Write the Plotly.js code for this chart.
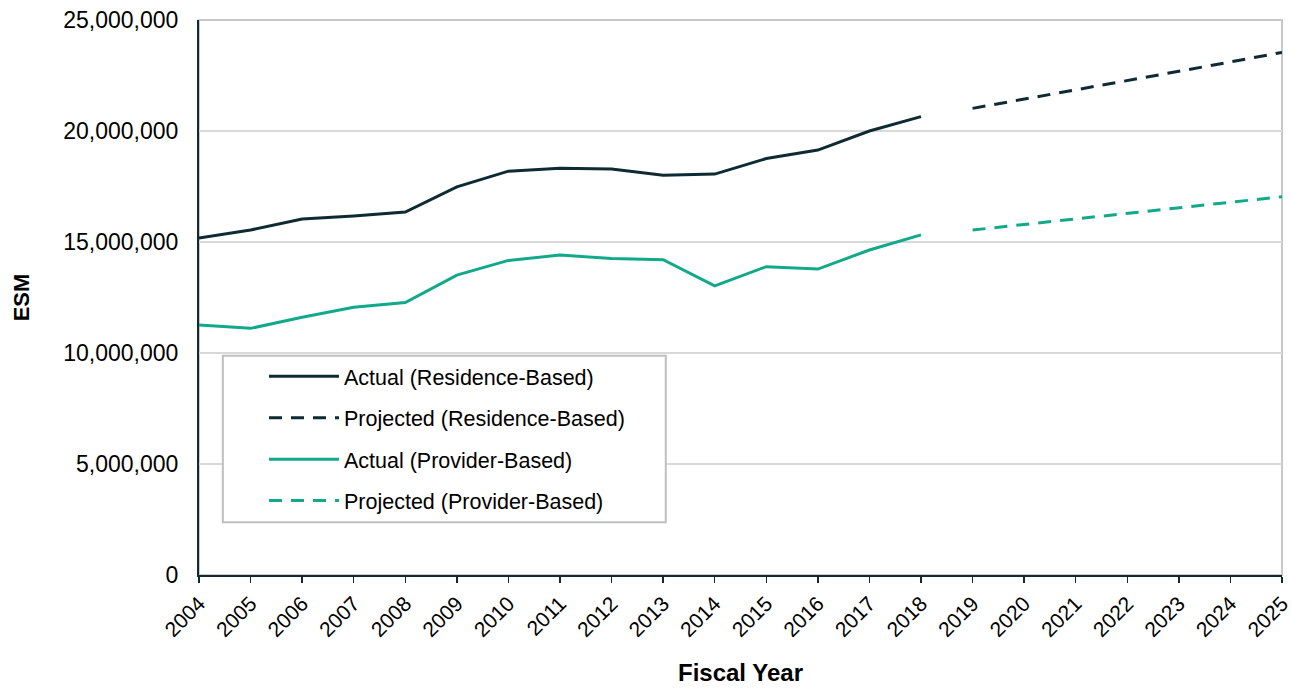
<!DOCTYPE html>
<html>
<head>
<meta charset="utf-8">
<script src="https://cdn.plot.ly/plotly-3.0.1.min.js"></script>
<style>html,body{margin:0;padding:0;background:#fff;}#chart{width:1292px;height:688px;}</style>
</head>
<body>
<div id="chart"></div>
<script>
const actualYears = [2004,2005,2006,2007,2008,2009,2010,2011,2012,2013,2014,2015,2016,2017,2018];
const projectedYears = [2019,2020,2021,2022,2023,2024,2025];
const actualResidence = [15180000,15540000,16040000,16170000,16350000,17480000,18190000,18320000,18290000,18010000,18060000,18760000,19140000,20000000,20650000];
const actualProvider = [11260000,11110000,11610000,12060000,12270000,13510000,14170000,14410000,14260000,14200000,13020000,13890000,13780000,14640000,15320000];
const projectedResidence = [21020000,21430000,21850000,22270000,22690000,23110000,23540000];
const projectedProvider = [15540000,15790000,16040000,16290000,16540000,16790000,17040000];
const tickYears = [2004,2005,2006,2007,2008,2009,2010,2011,2012,2013,2014,2015,2016,2017,2018,2019,2020,2021,2022,2023,2024,2025];
const yTicks = [0,5000000,10000000,15000000,20000000,25000000];

const dark = '#0e2b33';
const green = '#12a98a';
const dashPat = '13px,9px';

const traces = [
  {x: actualYears, y: actualResidence, name: 'Actual (Residence-Based)', mode: 'lines', line: {color: dark, width: 3}, legendgroup: 'a'},
  {x: projectedYears, y: projectedResidence, name: 'Projected (Residence-Based)', mode: 'lines', line: {color: dark, width: 3, dash: dashPat}, legendgroup: 'b'},
  {x: actualYears, y: actualProvider, name: 'Actual (Provider-Based)', mode: 'lines', line: {color: green, width: 3}, legendgroup: 'c'},
  {x: projectedYears, y: projectedProvider, name: 'Projected (Provider-Based)', mode: 'lines', line: {color: green, width: 3, dash: dashPat}, legendgroup: 'd'}
];

const layout = {
  width: 1292, height: 688,
  margin: {l: 199, r: 10, t: 20, b: 113},
  paper_bgcolor: '#fff', plot_bgcolor: '#fff',
  font: {family: 'Liberation Sans, Arial, sans-serif', color: '#000'},
  showlegend: true,
  legend: {
    x: 0.06, y: 0.395, xanchor: 'left', yanchor: 'top',
    bgcolor: 'rgba(0,0,0,0)', borderwidth: 0,
    font: {size: 21.5, color: '#000'},
    itemwidth: 70, tracegroupgap: 10.5, traceorder: 'grouped'
  },
  xaxis: {
    range: [2004, 2025], tickmode: 'array', tickvals: tickYears, ticktext: tickYears.map(String),
    tickangle: -45, tickfont: {size: 21}, ticks: 'outside', ticklen: 6, tickwidth: 1.5, tickcolor: dark,
    ticklabeloverflow: 'allow',
    showline: true, linecolor: dark, linewidth: 2, showgrid: false, zeroline: false,
    title: {text: '<b>Fiscal Year</b>', font: {size: 24}, standoff: 24}
  },
  yaxis: {
    range: [0, 25000000], tickmode: 'array', tickvals: yTicks,
    ticktext: yTicks.map(v => v.toLocaleString('en-US')),
    tickfont: {size: 23}, ticks: '', ticklabelstandoff: 14, showline: true, linecolor: dark, linewidth: 2,
    showgrid: true, gridcolor: '#d9d9d9', gridwidth: 2, zeroline: false,
    title: {text: '<b>ESM</b>', font: {size: 22}, standoff: 28}
  },
  shapes: [
    {type: 'rect', xref: 'paper', yref: 'paper', x0: 0, x1: 1, y0: 0, y1: 1, line: {color: '#c8c8c8', width: 2}, layer: 'below'},
    {type: 'rect', xref: 'paper', yref: 'paper', x0: 0.022, x1: 0.431, y0: 0.095, y1: 0.395, line: {color: '#bfbfbf', width: 2}, fillcolor: '#ffffff', layer: 'above'}
  ]
};

Plotly.newPlot('chart', traces, layout, {displayModeBar: false, staticPlot: true});
</script>
</body>
</html>
